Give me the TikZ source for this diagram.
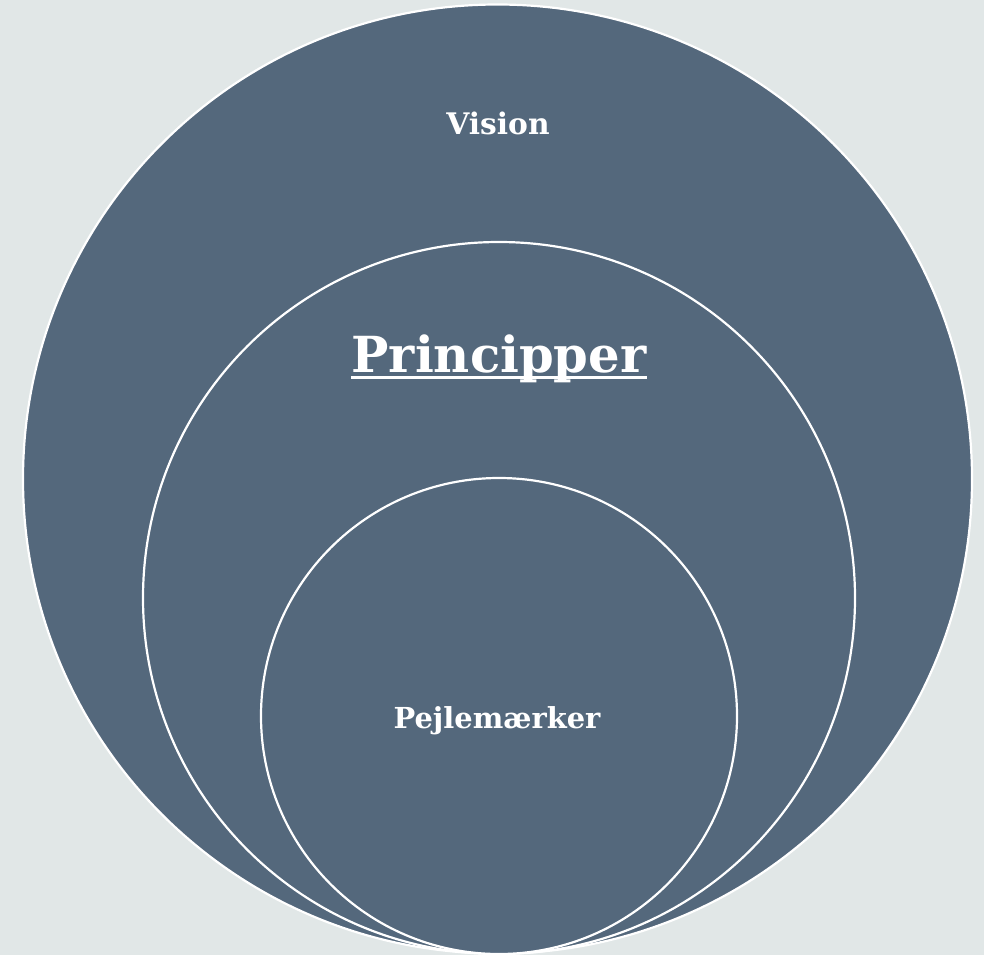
\documentclass[tikz,border=0pt]{standalone}
\usepackage{fontspec}
\setmainfont{DejaVu Serif}
\definecolor{bgc}{RGB}{225,231,231}
\definecolor{disc}{RGB}{84,104,124}
\begin{document}
\begin{tikzpicture}[x=1pt,y=-1pt,
  ring/.style={fill=disc,draw=white,line width=2.2pt},
  lbl/.style={text=white,font=\bfseries,inner sep=0pt,anchor=base}]
\useasboundingbox (0,0) rectangle (984,955);
\fill[bgc] (0,0) rectangle (984,955);
\draw[ring] (497.5,479) circle[radius=474.5];
\draw[ring] (499,598) circle[radius=356];
\draw[ring] (499,716) circle[radius=238];
\node[lbl,font=\bfseries\fontsize{29.7}{35}\selectfont] (vi) at (498,135) {Vision};
\node[lbl,font=\bfseries\fontsize{49.7}{58}\selectfont] (pr) at (499,372) {Principper};
\draw[white,line width=3pt] ([yshift=-5pt]pr.base west) -- ([yshift=-5pt]pr.base east);
\node[lbl,font=\bfseries\fontsize{28.9}{34}\selectfont] (pe) at (497,728) {Pejlemærker};
\end{tikzpicture}
\end{document}
